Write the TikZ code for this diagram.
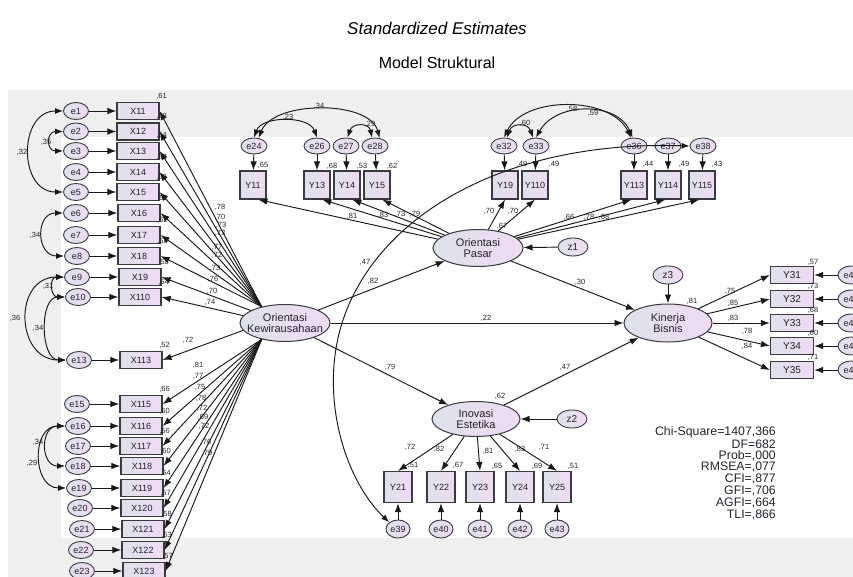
\documentclass[tikz,border=0pt]{standalone}
\usepackage{fontspec}
\setmainfont{Liberation Sans}
\usetikzlibrary{shapes.geometric,arrows.meta,calc}
\definecolor{bggray}{RGB}{239,239,239}
\definecolor{fillL}{RGB}{222,225,236}
\definecolor{fillR}{RGB}{240,218,244}
\definecolor{edgec}{RGB}{58,58,64}
\definecolor{txtc}{RGB}{35,35,45}
\begin{document}
\begin{tikzpicture}[x=1pt,y=-1pt,
 box/.style={rectangle,draw=edgec,line width=1.2pt,left color=fillL,right color=fillR,minimum width=42pt,minimum height=17pt,inner sep=0pt,font=\fontsize{9}{10}\selectfont,text=txtc},
 vbox/.style={box,minimum width=26pt,minimum height=28pt},
 err/.style={ellipse,draw=edgec,line width=0.9pt,left color=fillL,right color=fillR,minimum width=25pt,minimum height=17pt,inner sep=0pt,font=\fontsize{9}{10}\selectfont,text=txtc},
 lat/.style={ellipse,draw=edgec,line width=1pt,left color=fillL,right color=fillR,minimum width=90pt,minimum height=37pt,inner sep=0pt},
 lattxt/.style={align=center,inner sep=0pt,font=\fontsize{11}{11.5}\selectfont,text=txtc},
 arr/.style={draw=black!90,line width=0.95pt,-{Latex[length=9pt,width=6.5pt]}},
 cov/.style={draw=black!90,line width=0.95pt,{Latex[length=8pt,width=6pt]}-{Latex[length=8pt,width=6pt]}},
 lab/.style={inner sep=0pt,font=\fontsize{7.5}{8}\selectfont,text=txtc},
 ttl/.style={inner sep=0pt,font=\fontsize{16}{18}\selectfont,text=black},
 stat/.style={inner sep=0pt,anchor=east,font=\fontsize{12.3}{13}\selectfont,text=txtc}
]
\useasboundingbox (0,0) rectangle (853,577);
\clip (0,0) rectangle (853,577);
\fill[bggray] (8,90) rectangle (853,577);
\fill[white] (61,137) rectangle (853,538);

% titles
\node[ttl,font=\fontsize{17}{19}\selectfont\itshape] (title1) at (437,28) {Standardized Estimates};
\node[ttl] (title2) at (437,63) {Model Struktural};

% latent variables
\node[lat] (OK) at (285,323) {};
\node[lattxt] (OKt) at (OK) {Orientasi\\Kewirausahaan};
\node[lat] (OP) at (478,248) {};
\node[lattxt] (OPt) at (OP) {Orientasi\\Pasar};
\node[lat,minimum width=88pt,minimum height=38pt] (KB) at (668,323) {};
\node[lattxt] (KBt) at (KB) {Kinerja\\Bisnis};
\node[lat,minimum width=88pt,minimum height=35pt] (IE) at (476,419) {};
\node[lattxt] (IEt) at (IE) {Inovasi\\Estetika};
\node[err,minimum width=30pt,minimum height=18pt,font=\fontsize{10}{11}\selectfont] (z1) at (573,247) {z1};
\node[err,minimum width=30pt,minimum height=18pt,font=\fontsize{10}{11}\selectfont] (z2) at (572,419) {z2};
\node[err,minimum width=30pt,minimum height=18pt,font=\fontsize{10}{11}\selectfont] (z3) at (668,275) {z3};

% left indicators
\foreach \n/\y/\ex/\bx/\r in {1/111/76/138/61, 2/131.5/76/138/49, 3/151/76/138/54, 4/172/76/138/53, 5/192/76/138/59, 6/213/76/139/52, 7/235/76/139/62, 8/256/77/139/58, 9/277/77/140/58, 10/297/78/140/54, 13/360/79/141/52, 15/404/77/141/66, 16/426/78/141/60, 17/446/78/141/56, 18/466/78/142/60, 19/488/79/142/54, 20/508/80/142/57, 21/529/82/143/58, 22/550/81/143/63, 23/571/82/144/57}{
  \node[err] (e\n) at (\ex,\y) {e\n};
  \node[box] (X1\n) at (\bx,\y) {X1\n};
  \node[lab] (rX\n) at ($(X1\n.north east)+(2,-6)$) {,\r};
  \draw[arr] (e\n) -- (X1\n);
}
\foreach \n in {1,...,8} {\draw[arr] (OK.145) -- (X1\n.east);}
\draw[arr] (OK.160) -- (X19.east);
\draw[arr] (OK.170) -- (X110.east);
\draw[arr] (OK.190) -- (X113.east);
\foreach \n in {15,...,23} {\draw[arr] (OK.215) -- (X1\n.east);}

% left covariances
\draw[cov] (e1.west) .. controls +(-45,0) and +(-45,0) .. (e5.west);
\draw[cov] (e2.west) .. controls +(-17,0) and +(-17,0) .. (e3.west);
\draw[cov] (e6.west) .. controls +(-28,0) and +(-28,0) .. (e8.west);
\draw[cov] (e9.west) .. controls +(-15,0) and +(-15,0) .. (e10.west);
\draw[cov] (e9.west) .. controls +(-51,0) and +(-51,0) .. (e13.west);
\draw[cov] (e10.west) .. controls +(-26,0) and +(-26,0) .. (e13.west);
\draw[cov] (e16.west) .. controls +(-25,0) and +(-25,0) .. (e18.west);
\draw[cov] (e16.west) .. controls +(-34,0) and +(-34,0) .. (e19.west);

% top indicators of Orientasi Pasar
\foreach \en/\ex/\yn/\yx in {24/254/11/253, 26/317/13/317, 27/346/14/347, 28/375/15/377, 32/504/19/505, 33/536/110/535, 36/634/113/634, 37/668/114/668, 38/703/115/702}{
  \node[err,minimum width=26pt,minimum height=16pt] (e\en) at (\ex,146) {e\en};
  \node[vbox] (Y\yn) at (\yx,185) {Y\yn};
  \draw[arr] (e\en) -- (Y\yn);
}
\draw[arr] (OP) -- (Y11.-70);
\draw[arr] (OP) -- (Y13.-70);
\draw[arr] (OP) -- (Y14.-70);
\draw[arr] (OP) -- (Y15.-70);
\draw[arr] (OP) -- (Y19.south);
\draw[arr] (OP) -- (Y110.south);
\draw[arr] (OP) -- (Y113.-100);
\draw[arr] (OP) -- (Y114.-100);
\draw[arr] (OP) -- (Y115.-100);

% top covariances
\draw[cov] (e24.north) .. controls +(8,-22) and +(-8,-22) .. (e26.north);
\draw[cov] (e24.60) .. controls +(15,-38) and +(-10,-38) .. (e28.60);
\draw[cov] (e27.80) .. controls +(5,-15) and +(-3,-15) .. (e28.110);
\draw[cov] (e32.70) .. controls +(5,-15) and +(-5,-15) .. (e33.110);
\draw[cov] (e32.north) .. controls +(20,-42) and +(-20,-42) .. (e36.110);
\draw[cov] (e33.north) .. controls +(20,-36) and +(-15,-36) .. (e36.100);

% Kinerja Bisnis indicators
\foreach \k/\y/\en in {1/275/44, 2/299/45, 3/323/46, 4/346/47, 5/370/48}{
  \node[box,minimum width=43pt,font=\fontsize{10}{11}\selectfont] (Y3\k) at (792,\y) {Y3\k};
  \node[err,minimum width=26pt,minimum height=18pt] (e\en) at (851,\y) {e\en};
  \draw[arr] (e\en) -- (Y3\k);
  \draw[arr] (KB) -- (Y3\k.west);
}

% Inovasi Estetika indicators
\foreach \k/\x/\en in {1/398/39, 2/441/40, 3/480/41, 4/520/42, 5/557/43}{
  \node[box,minimum width=28pt,minimum height=31pt] (Y2\k) at (\x,487) {Y2\k};
  \node[err,minimum width=24pt,minimum height=18pt] (e\en) at (\x,529) {e\en};
  \draw[arr] (e\en) -- (Y2\k);
  \draw[arr] (IE) -- (Y2\k.north);
}

% structural paths
\draw[arr] (OK) -- (OP);
\draw[arr] (OK) -- (KB);
\draw[arr] (OK) -- (IE);
\draw[arr] (OP) -- (KB);
\draw[arr] (IE) -- (KB);
\draw[arr] (z1) -- (OP);
\draw[arr] (z2) -- (IE);
\draw[arr] (z3) -- (KB);

% big covariance e38 - e39
\draw[cov] (e39.north west) .. controls (345,480) and (321,400) .. (340,330) .. controls (370,220) and (500,140) .. (e38.west);

% numeric labels
\foreach \x/\y/\t [count=\i] in {220/207/78, 220/217/70, 221/225/73, 220/233/73, 217/247/77, 217/255/72, 215/268/73, 213/279/76, 212/291/70, 210/302/74, 188/340/72, 198/365/81, 198/376/77, 200/387/75, 201/398/78, 202/408/72, 203/417/69, 204/426/72, 206/442/76, 207/453/79,
 263/165/65, 332/166/68, 362/166/53, 392/166/62, 522/164/49, 554/164/49, 648/164/44, 684/164/49, 717/164/43,
 352/216/81, 383/215/83, 400/214/73, 415/214/79, 489/211/70, 513/211/70, 569/217/66, 589/217/78, 604/217/68, 502/226/67,
 373/281/82, 486/318/22, 390/367/79, 580/282/30, 565/367/47, 365/262/47, 692/301/81, 500/396/62,
 813/262/57, 813/286/73, 813/310/68, 813/333/60, 813/357/71, 730/291/75, 733/303/85, 733/318/83, 747/331/78, 747/346/84,
 413/465/51, 458/465/67, 497/466/65, 537/466/69, 573/466/51, 410/447/72, 439/449/82, 488/451/81, 520/449/83, 544/447/71,
 22/152/32, 46/142/35, 35/235/34, 48/286/31, 15/318/36, 38/328/34, 38/442/34, 32/463/29, 288/117/23, 319/106/34, 370/124/29, 525/123/60, 572/109/58, 593/113/59}{
  \node[lab] (n\i) at (\x,\y) {,\t};
}

% fit statistics
\node[stat] (s1) at (776,432) {Chi-Square=1407,366};
\node[stat] (s2) at (776,443.8) {DF=682};
\node[stat] (s3) at (776,455.6) {Prob=,000};
\node[stat] (s4) at (776,467.4) {RMSEA=,077};
\node[stat] (s5) at (776,479.2) {CFI=,877};
\node[stat] (s6) at (776,491) {GFI=,706};
\node[stat] (s7) at (776,502.8) {AGFI=,664};
\node[stat] (s8) at (776,514.6) {TLI=,866};
\end{tikzpicture}
\end{document}
